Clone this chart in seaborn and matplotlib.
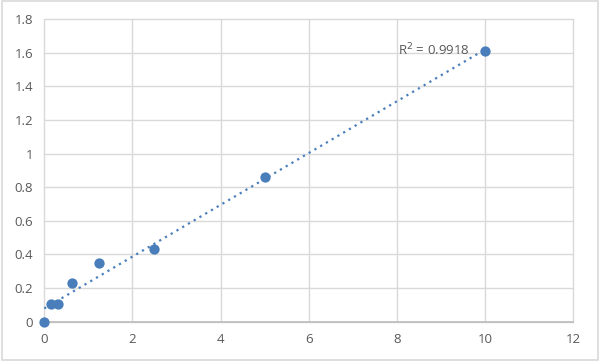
import numpy as np
import pandas as pd
import matplotlib
matplotlib.use("Agg")
import matplotlib.pyplot as plt
import seaborn as sns
from matplotlib.patches import Rectangle

# Data
conc = [0, 0.156, 0.3125, 0.625, 1.25, 2.5, 5, 10]
od = [0.0, 0.103, 0.106, 0.228, 0.349, 0.432, 0.860, 1.609]
r2_label = "R$^2$ = 0.9918"
x_ticks = [0, 2, 4, 6, 8, 10, 12]
y_ticks = [0, 0.2, 0.4, 0.6, 0.8, 1, 1.2, 1.4, 1.6, 1.8]
y_tick_labels = ["0", "0.2", "0.4", "0.6", "0.8", "1", "1.2", "1.4", "1.6", "1.8"]

df = pd.DataFrame({"conc": conc, "od": od})

sns.set_theme(style="white")
plt.rcParams["font.family"] = ["Open Sans", "DejaVu Sans"]

blue = "#4a7ebb"
grid_c = "#d9d9d9"
text_c = "#595959"

fig = plt.figure(figsize=(6, 3.61), dpi=100)
ax = fig.add_axes([0.0738, 0.1089, 0.8817, 0.8385])

sns.regplot(data=df, x="conc", y="od", ax=ax, scatter=False, ci=None,
            truncate=True,
            line_kws=dict(color=blue, linestyle=(0, (1, 2)), linewidth=1.6))
sns.scatterplot(data=df, x="conc", y="od", ax=ax, color=blue, s=55,
                edgecolor=blue, linewidth=0, zorder=5, clip_on=False)

ax.set_xlim(0, 12)
ax.set_ylim(0, 1.8)
ax.set_xticks(x_ticks)
ax.set_yticks(y_ticks)
ax.set_yticklabels(y_tick_labels)
ax.set_xlabel("")
ax.set_ylabel("")
ax.grid(True, color=grid_c, linewidth=1.0)
ax.set_axisbelow(True)
for s in ["top", "right", "left"]:
    ax.spines[s].set_visible(False)
ax.spines["bottom"].set_color("#bfbfbf")
ax.spines["bottom"].set_linewidth(1.3)
ax.tick_params(axis="both", length=0, labelsize=9.5, labelcolor=text_c)
ax.tick_params(axis="x", pad=8)
ax.tick_params(axis="y", pad=8)
for sp in ax.get_xgridlines() + ax.get_ygridlines():
    sp.set_clip_on(False)

ax.text(9.66, 1.615, r2_label, ha="right", va="center", fontsize=9.5,
        color=text_c)

fig.patches.append(Rectangle((0.003, 0.004), 0.993, 0.992, transform=fig.transFigure,
                             fill=False, edgecolor=grid_c, linewidth=1.2))

fig.savefig("out.png", dpi=100)
